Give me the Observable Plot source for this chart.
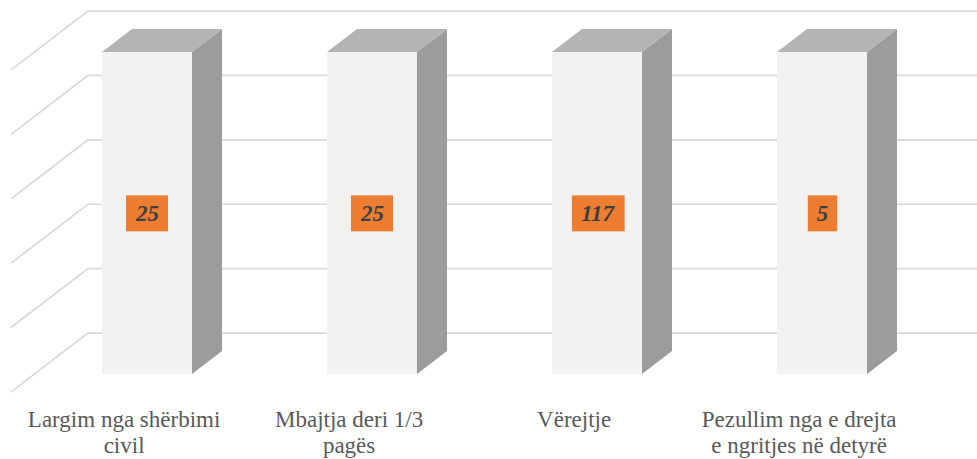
<!DOCTYPE html>
<html>
<head>
<meta charset="utf-8">
<script src="https://cdn.jsdelivr.net/npm/d3@7"></script>
<script src="https://cdn.jsdelivr.net/npm/@observablehq/plot@0.6"></script>
<style>
  body { margin: 0; background: #fff; }
</style>
</head>
<body>
<div id="chart"></div>
<script>
// Disciplinary measures and how many times each was applied
const categories = [
  "Largim nga shërbimi civil",
  "Mbajtja deri 1/3 pagës",
  "Vërejtje",
  "Pezullim nga e drejta e ngritjes në detyrë"
];
const tickLabels = [
  "Largim nga shërbimi\ncivil",
  "Mbajtja deri 1/3\npagës",
  "Vërejtje",
  "Pezullim nga e drejta\ne ngritjes në detyrë"
];
const values = [25, 25, 117, 5];
const yTicks = [0, 1, 2, 3, 4, 5];

const rows = categories.map((category, i) => ({category, label: tickLabels[i], value: values[i]}));
const yMax = yTicks[yTicks.length - 1];
const serif = "Liberation Serif";

// Oblique projection: pixel offset of one bar depth, and floor gaps in front of / behind the bars
const depth = [30, -23];
const gapFront = 0.78, gapBack = 0.78;
const backShift = [depth[0] * (1 + gapBack), depth[1] * (1 + gapBack)];
const frontShift = [-depth[0] * gapFront, -depth[1] * gapFront];

// Back wall and side wall gridlines
function walls(index, scales, values, dims) {
  const g = d3.create("svg:g")
    .attr("fill", "none")
    .attr("stroke", "#D9D9D9")
    .attr("stroke-width", 1.7);
  const x0 = dims.marginLeft;
  for (const t of yTicks) {
    const y = scales.y(t);
    g.append("path").attr("d",
      `M${x0 + frontShift[0]},${y + frontShift[1]}` +
      `L${x0 + backShift[0]},${y + backShift[1]}` +
      `L${dims.width + 20},${y + backShift[1]}`);
  }
  return g.node();
}

// Adds the top and right side faces to each bar
function prism(index, scales, vals, dims, ctx, next) {
  const g = d3.create("svg:g");
  const bw = typeof scales.x.bandwidth === "function" ? scales.x.bandwidth() : scales.scales.x.bandwidth;
  for (const i of index) {
    const x = vals.x[i];
    const yTop = Math.min(vals.y1[i], vals.y2[i]);
    const yBase = Math.max(vals.y1[i], vals.y2[i]);
    const [dx, dy] = depth;
    g.append("path").attr("fill", "#9C9C9C").attr("d",
      `M${x + bw},${yTop}L${x + bw + dx},${yTop + dy}L${x + bw + dx},${yBase + dy}L${x + bw},${yBase}Z`);
    g.append("path").attr("fill", "#B4B4B4").attr("d",
      `M${x},${yTop}L${x + dx},${yTop + dy}L${x + bw + dx},${yTop + dy}L${x + bw},${yTop}Z`);
  }
  g.node().appendChild(next(index, scales, vals, dims, ctx));
  return g.node();
}

const chart = Plot.plot({
  width: 977,
  height: 459,
  marginLeft: 34.5,
  marginRight: 42.5,
  marginTop: 52,
  marginBottom: 85,
  style: {background: "#fff", overflow: "visible"},
  x: {domain: categories, paddingInner: 0.6, paddingOuter: 0.3, axis: null},
  y: {domain: [0, yMax], clamp: true, axis: null},
  marks: [
    walls,
    Plot.barY(rows, {x: "category", y: "value", fill: "#F2F2F2", render: prism}),
    Plot.text(rows, {
      x: "category",
      y: d => Math.min(d.value, yMax) / 2,
      text: d => String(d.value),
      fill: "#404040",
      fontFamily: serif,
      fontSize: 23,
      fontWeight: "bold",
      fontStyle: "italic",
      className: "value-label"
    }),
    Plot.text(rows, {
      x: "category",
      text: "label",
      frameAnchor: "bottom",
      lineAnchor: "top",
      dx: frontShift[0],
      dy: 34,
      lineHeight: 1.13,
      fill: "#595959",
      fontFamily: serif,
      fontSize: 23
    })
  ]
});

document.getElementById("chart").append(chart);

// Orange boxes behind the value labels
d3.select(chart).selectAll(".value-label text").each(function() {
  const b = this.getBBox();
  const cy = b.y + b.height / 2;
  const rect = document.createElementNS("http://www.w3.org/2000/svg", "rect");
  rect.setAttribute("x", b.x - 9);
  rect.setAttribute("y", cy - 18);
  rect.setAttribute("width", b.width + 18);
  rect.setAttribute("height", 36);
  rect.setAttribute("fill", "#ED7D31");
  const tr = this.getAttribute("transform");
  if (tr) rect.setAttribute("transform", tr);
  this.parentNode.insertBefore(rect, this);
});
</script>
</body>
</html>
